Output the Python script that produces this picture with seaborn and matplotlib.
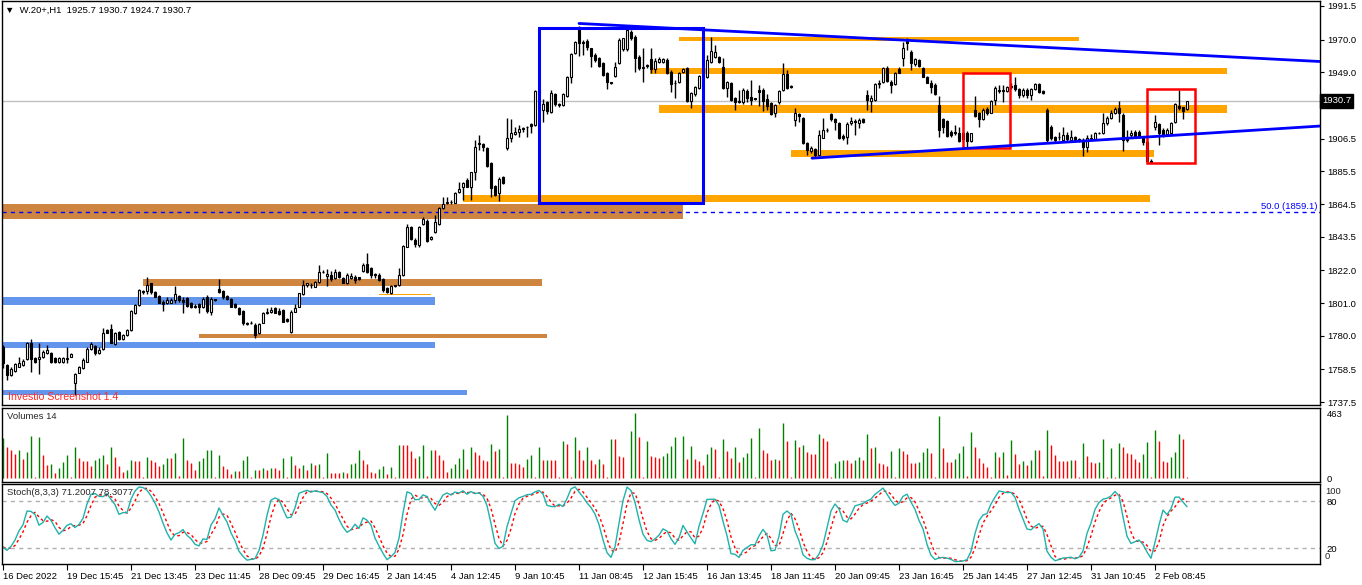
import numpy as np
import pandas as pd
import matplotlib
matplotlib.use("Agg")
import matplotlib.pyplot as plt
import matplotlib.transforms as mtransforms
from matplotlib.patches import Rectangle
import seaborn as sns

# H1 bars, 16 Dec 2022 -> 2 Feb 2023
opens = [
    1773.0, 1761.2, 1754.8, 1757.6, 1760.2, 1761.2, 1764.9, 1775.6, 1765.5, 1764.9,
    1766.6, 1768.7, 1769.2, 1765.5, 1763.4, 1763.0, 1765.3, 1766.6, 1749.9, 1756.3,
    1759.1, 1763.4, 1771.3, 1773.4, 1769.2, 1771.3, 1783.7, 1784.1, 1774.7, 1782.6,
    1777.7, 1780.5, 1783.7, 1794.4, 1799.7, 1808.7, 1808.9, 1813.6, 1808.3, 1805.5,
    1801.9, 1800.8, 1801.2, 1802.9, 1805.5, 1802.9, 1804.0, 1800.8, 1799.1, 1800.4,
    1798.7, 1805.1, 1795.5, 1803.4, 1810.0, 1808.7, 1805.5, 1803.4, 1800.4, 1797.6,
    1795.9, 1787.5, 1788.0, 1787.1, 1781.6, 1788.4, 1794.4, 1795.5, 1797.8, 1795.9,
    1796.5, 1790.5, 1782.6, 1795.5, 1798.7, 1806.8, 1812.5, 1812.5, 1811.5, 1814.3,
    1820.7, 1818.3, 1819.0, 1816.8, 1821.1, 1816.8, 1813.6, 1816.8, 1817.9, 1817.5,
    1821.7, 1826.0, 1823.2, 1819.4, 1819.0, 1816.2, 1810.4, 1807.2, 1811.9, 1812.5,
    1819.0, 1837.1, 1849.5, 1841.4, 1838.2, 1851.7, 1853.6, 1842.1, 1846.8, 1851.5,
    1861.7, 1865.4, 1866.0, 1865.4, 1872.4, 1875.2, 1879.9, 1875.6, 1884.8, 1903.4,
    1903.0, 1900.2, 1891.0, 1876.3, 1871.3, 1882.0, 1900.6, 1907.0, 1909.6, 1910.5,
    1912.6, 1913.7, 1915.6, 1915.2, 1937.0, 1924.8, 1930.1, 1923.7, 1935.1, 1928.6,
    1928.0, 1933.8, 1945.7, 1961.1, 1977.2, 1968.6, 1969.3, 1964.3, 1960.1, 1958.4,
    1954.7, 1948.3, 1942.3, 1946.8, 1954.7, 1963.7, 1963.7, 1975.0, 1971.8, 1959.0,
    1951.9, 1953.7, 1957.5, 1951.1, 1955.4, 1955.8, 1956.9, 1949.4, 1942.3, 1942.5,
    1949.0, 1951.5, 1930.6, 1934.8, 1938.7, 1946.6, 1946.2, 1955.4, 1959.0, 1959.0,
    1952.6, 1939.1, 1941.9, 1932.3, 1930.6, 1929.7, 1937.0, 1933.3, 1932.3, 1937.6,
    1937.6, 1931.8, 1929.1, 1922.7, 1929.7, 1937.6, 1947.7, 1939.8, 1918.4, 1922.0,
    1919.5, 1903.4, 1898.5, 1899.8, 1895.9, 1907.1, 1911.8, 1922.0, 1919.0, 1916.2,
    1908.3, 1907.7, 1916.2, 1917.7, 1916.2, 1919.0, 1934.4, 1930.6, 1931.2, 1941.9,
    1943.0, 1951.5, 1943.0, 1941.5, 1950.9, 1957.9, 1969.7, 1962.2, 1954.1, 1956.9,
    1951.5, 1946.2, 1942.3, 1940.8, 1928.0, 1918.8, 1918.0, 1910.9, 1910.9, 1909.8,
    1909.8, 1910.3, 1905.1, 1924.8, 1923.1, 1918.8, 1925.2, 1923.1, 1931.2, 1937.2,
    1937.6, 1937.0, 1939.3, 1940.8, 1938.0, 1934.4, 1937.6, 1934.4, 1938.0, 1941.5,
    1937.2, 1924.8, 1914.1, 1907.3, 1907.3, 1905.6, 1908.8, 1905.6, 1907.3, 1905.6,
    1905.6, 1901.3, 1906.2, 1906.0, 1910.0, 1909.8, 1916.2, 1919.5, 1922.7, 1925.9,
    1921.6, 1907.3, 1908.8, 1910.9, 1910.9, 1907.3, 1904.5, 1892.3, 1914.1, 1915.8,
    1912.0, 1909.4, 1909.8, 1917.3, 1927.4, 1926.5, 1925.7,
]
highs = [
    1774.1, 1761.9, 1760.2, 1762.7, 1766.2, 1764.9, 1776.2, 1777.9, 1766.6, 1775.1,
    1770.9, 1774.1, 1769.8, 1766.2, 1766.2, 1766.6, 1772.6, 1768.7, 1755.9, 1760.8,
    1765.5, 1772.6, 1776.2, 1774.1, 1773.0, 1784.8, 1784.1, 1787.5, 1782.6, 1783.3,
    1781.1, 1784.1, 1796.5, 1800.4, 1809.8, 1809.3, 1817.5, 1814.1, 1808.9, 1806.1,
    1802.9, 1805.1, 1804.0, 1811.9, 1806.1, 1805.1, 1805.1, 1801.9, 1800.4, 1800.8,
    1804.6, 1806.1, 1805.1, 1803.6, 1816.4, 1809.3, 1806.4, 1804.0, 1800.8, 1798.7,
    1796.5, 1789.0, 1789.2, 1788.0, 1788.4, 1795.5, 1797.6, 1798.7, 1798.7, 1797.6,
    1796.9, 1791.2, 1796.5, 1800.4, 1807.6, 1815.8, 1814.1, 1814.1, 1814.9, 1825.4,
    1822.2, 1822.6, 1821.7, 1822.6, 1821.7, 1817.5, 1820.0, 1820.5, 1819.0, 1817.9,
    1826.4, 1832.9, 1823.9, 1820.0, 1820.0, 1816.8, 1811.0, 1812.5, 1812.5, 1823.2,
    1838.2, 1851.7, 1850.4, 1842.5, 1850.4, 1856.4, 1854.7, 1844.0, 1857.4, 1862.4,
    1869.2, 1869.2, 1867.1, 1872.4, 1878.8, 1878.8, 1881.0, 1885.2, 1905.5, 1908.8,
    1903.8, 1900.9, 1891.7, 1876.7, 1882.0, 1882.5, 1919.5, 1918.8, 1914.1, 1915.2,
    1914.1, 1914.5, 1916.2, 1937.6, 1937.6, 1931.6, 1930.8, 1937.6, 1935.9, 1929.5,
    1935.5, 1946.6, 1961.1, 1969.3, 1978.7, 1969.7, 1970.1, 1964.8, 1961.1, 1959.0,
    1955.8, 1949.0, 1943.0, 1955.8, 1970.8, 1971.2, 1976.8, 1976.1, 1972.9, 1960.1,
    1964.3, 1954.1, 1964.3, 1957.9, 1959.0, 1958.4, 1957.9, 1950.5, 1944.0, 1949.4,
    1952.0, 1952.6, 1936.6, 1940.4, 1947.2, 1953.7, 1960.1, 1971.8, 1966.5, 1959.6,
    1958.4, 1943.4, 1943.0, 1933.3, 1937.6, 1939.1, 1938.3, 1944.0, 1932.7, 1940.8,
    1938.7, 1934.8, 1929.7, 1928.4, 1937.6, 1954.7, 1950.5, 1940.8, 1925.9, 1922.7,
    1920.5, 1904.5, 1901.9, 1900.6, 1912.0, 1919.4, 1913.0, 1922.7, 1919.9, 1917.3,
    1909.2, 1916.9, 1920.5, 1919.0, 1919.4, 1919.4, 1937.6, 1934.4, 1941.9, 1944.0,
    1952.6, 1953.2, 1944.0, 1949.4, 1952.2, 1968.6, 1970.8, 1963.3, 1957.9, 1957.3,
    1952.2, 1946.6, 1944.0, 1941.9, 1933.8, 1919.4, 1918.4, 1912.0, 1915.2, 1914.1,
    1911.5, 1911.5, 1910.3, 1933.8, 1923.7, 1925.9, 1926.5, 1931.2, 1940.2, 1940.8,
    1940.8, 1940.2, 1941.9, 1946.2, 1938.7, 1938.7, 1938.7, 1938.7, 1942.3, 1942.3,
    1937.6, 1925.9, 1915.2, 1908.1, 1910.9, 1913.7, 1910.9, 1912.0, 1908.1, 1906.6,
    1906.6, 1908.8, 1909.4, 1910.9, 1910.9, 1922.7, 1920.9, 1924.8, 1926.9, 1930.8,
    1922.7, 1912.0, 1912.0, 1912.0, 1912.0, 1908.1, 1905.6, 1893.2, 1921.6, 1916.2,
    1913.0, 1913.0, 1917.3, 1929.1, 1937.6, 1926.9, 1930.7,
]
lows = [
    1759.1, 1751.6, 1754.2, 1757.0, 1759.8, 1760.8, 1764.5, 1757.0, 1762.7, 1755.5,
    1765.9, 1768.3, 1762.7, 1762.3, 1762.7, 1762.3, 1762.7, 1766.2, 1742.0, 1755.9,
    1758.5, 1763.0, 1770.9, 1767.6, 1768.3, 1770.9, 1781.6, 1775.1, 1774.1, 1777.3,
    1777.3, 1780.1, 1783.3, 1794.0, 1799.3, 1806.8, 1806.8, 1806.8, 1804.6, 1800.8,
    1796.1, 1800.4, 1800.8, 1800.8, 1801.9, 1794.4, 1798.7, 1797.6, 1797.6, 1794.8,
    1797.6, 1794.4, 1793.3, 1802.5, 1807.2, 1803.4, 1802.9, 1798.2, 1797.6, 1793.3,
    1786.9, 1787.1, 1787.5, 1778.3, 1781.1, 1788.0, 1794.0, 1794.8, 1794.4, 1793.1,
    1788.6, 1788.6, 1781.6, 1795.0, 1798.2, 1806.1, 1811.5, 1810.4, 1811.0, 1813.6,
    1820.5, 1811.9, 1815.3, 1816.2, 1816.8, 1813.6, 1813.2, 1816.2, 1814.0, 1815.8,
    1821.1, 1820.5, 1816.8, 1816.8, 1815.3, 1808.3, 1807.6, 1806.8, 1811.5, 1811.9,
    1818.3, 1836.7, 1841.4, 1837.1, 1837.1, 1851.0, 1840.3, 1841.4, 1846.1, 1851.0,
    1861.1, 1864.5, 1864.5, 1864.9, 1871.8, 1867.1, 1875.2, 1867.1, 1879.9, 1899.1,
    1898.7, 1888.5, 1869.2, 1869.6, 1866.6, 1877.3, 1899.1, 1904.5, 1908.8, 1907.3,
    1910.9, 1907.7, 1909.8, 1914.5, 1935.0, 1917.3, 1922.2, 1922.6, 1927.4, 1926.5,
    1927.4, 1933.3, 1942.3, 1960.5, 1959.4, 1960.1, 1963.3, 1952.6, 1955.8, 1952.2,
    1946.8, 1938.3, 1941.3, 1946.2, 1954.1, 1962.6, 1962.6, 1969.7, 1949.4, 1950.5,
    1942.5, 1951.9, 1948.3, 1948.3, 1954.7, 1955.2, 1947.7, 1936.6, 1932.3, 1941.9,
    1948.3, 1929.7, 1926.3, 1934.0, 1938.3, 1944.0, 1945.1, 1954.7, 1957.9, 1954.7,
    1938.3, 1933.3, 1930.6, 1924.8, 1929.1, 1928.4, 1929.7, 1928.0, 1931.0, 1927.6,
    1924.2, 1924.8, 1921.6, 1920.5, 1928.4, 1937.0, 1938.3, 1938.7, 1914.7, 1917.3,
    1902.8, 1895.9, 1897.0, 1894.8, 1895.5, 1906.6, 1910.9, 1917.7, 1912.0, 1906.2,
    1905.6, 1902.8, 1915.2, 1908.8, 1913.5, 1916.2, 1924.8, 1923.7, 1930.6, 1938.7,
    1941.9, 1943.0, 1935.5, 1940.8, 1948.3, 1953.0, 1963.3, 1950.5, 1953.0, 1952.2,
    1945.7, 1941.9, 1935.5, 1934.4, 1907.7, 1909.8, 1907.7, 1907.7, 1908.8, 1904.5,
    1904.5, 1901.3, 1904.5, 1920.5, 1914.1, 1918.4, 1921.6, 1922.7, 1928.0, 1935.5,
    1930.1, 1936.6, 1938.0, 1937.2, 1932.7, 1933.3, 1932.7, 1931.2, 1937.6, 1935.5,
    1935.1, 1904.5, 1905.6, 1904.5, 1905.6, 1904.9, 1905.1, 1904.5, 1904.5, 1904.5,
    1895.3, 1898.1, 1905.6, 1905.6, 1909.4, 1909.4, 1915.2, 1918.8, 1922.2, 1917.3,
    1898.7, 1904.5, 1906.6, 1906.6, 1906.6, 1902.4, 1891.7, 1891.0, 1912.0, 1902.4,
    1907.7, 1908.1, 1909.4, 1916.7, 1924.8, 1918.8, 1924.7,
]
closes = [
    1762.3, 1754.8, 1758.5, 1761.9, 1762.7, 1763.8, 1775.1, 1764.9, 1763.4, 1766.6,
    1769.4, 1770.9, 1763.4, 1763.0, 1765.5, 1765.5, 1765.7, 1768.1, 1755.3, 1760.2,
    1764.5, 1771.3, 1774.7, 1768.7, 1770.9, 1781.6, 1782.0, 1775.6, 1782.0, 1777.7,
    1780.5, 1783.7, 1795.9, 1799.7, 1809.3, 1808.3, 1812.6, 1808.3, 1805.1, 1801.2,
    1800.4, 1802.9, 1802.9, 1806.6, 1802.9, 1801.9, 1799.3, 1798.7, 1798.2, 1798.2,
    1803.4, 1796.1, 1803.4, 1802.9, 1808.3, 1805.1, 1803.4, 1798.7, 1798.2, 1794.0,
    1788.4, 1788.4, 1788.4, 1780.5, 1787.5, 1794.8, 1795.0, 1796.5, 1794.8, 1793.7,
    1789.0, 1789.2, 1795.5, 1797.8, 1807.2, 1812.5, 1813.6, 1812.5, 1814.3, 1821.1,
    1821.1, 1819.6, 1816.2, 1821.1, 1817.5, 1814.0, 1819.0, 1818.5, 1815.8, 1816.6,
    1825.4, 1821.1, 1819.0, 1818.8, 1815.8, 1809.3, 1808.3, 1811.9, 1812.1, 1819.0,
    1837.6, 1849.5, 1842.1, 1838.8, 1850.0, 1854.7, 1840.8, 1843.5, 1853.2, 1861.7,
    1864.5, 1866.0, 1865.6, 1871.3, 1873.9, 1877.8, 1875.6, 1884.8, 1901.3, 1903.0,
    1900.8, 1889.1, 1874.5, 1870.3, 1880.3, 1877.8, 1906.6, 1910.3, 1910.5, 1912.6,
    1913.0, 1914.1, 1914.5, 1937.0, 1935.9, 1928.6, 1924.4, 1935.5, 1928.4, 1927.8,
    1934.8, 1945.7, 1960.5, 1968.6, 1967.6, 1967.6, 1965.0, 1959.6, 1956.9, 1953.0,
    1947.2, 1942.5, 1942.1, 1952.6, 1969.7, 1970.8, 1976.1, 1970.8, 1958.4, 1951.9,
    1952.6, 1952.8, 1951.1, 1956.2, 1957.5, 1957.5, 1948.3, 1941.3, 1941.9, 1948.3,
    1951.1, 1930.6, 1935.5, 1939.8, 1946.6, 1947.2, 1956.9, 1962.6, 1962.2, 1955.4,
    1938.7, 1943.0, 1931.2, 1929.7, 1930.1, 1937.6, 1932.3, 1931.2, 1932.1, 1936.6,
    1930.6, 1927.6, 1922.0, 1928.0, 1937.0, 1947.7, 1938.7, 1939.6, 1922.7, 1921.2,
    1903.4, 1899.1, 1900.6, 1895.9, 1908.7, 1912.0, 1912.0, 1919.0, 1917.3, 1906.6,
    1907.0, 1915.6, 1917.7, 1917.3, 1918.4, 1916.9, 1931.2, 1932.3, 1941.3, 1941.7,
    1951.5, 1943.4, 1940.8, 1948.3, 1948.7, 1964.4, 1968.0, 1954.7, 1957.3, 1953.0,
    1946.2, 1942.3, 1939.8, 1935.1, 1912.0, 1914.1, 1908.1, 1908.8, 1909.8, 1904.9,
    1906.0, 1905.1, 1909.8, 1921.0, 1918.8, 1924.8, 1922.7, 1930.8, 1938.7, 1937.6,
    1937.2, 1939.3, 1940.2, 1938.0, 1934.4, 1937.6, 1934.4, 1938.0, 1941.5, 1936.6,
    1935.5, 1905.6, 1906.6, 1905.6, 1907.3, 1908.8, 1906.0, 1907.7, 1905.6, 1905.6,
    1901.3, 1906.6, 1906.6, 1909.8, 1910.0, 1916.2, 1919.5, 1923.1, 1925.2, 1923.1,
    1905.6, 1905.6, 1909.8, 1907.7, 1907.7, 1904.5, 1892.3, 1891.7, 1917.3, 1909.8,
    1908.8, 1912.0, 1916.7, 1928.6, 1925.9, 1924.4, 1930.7,
]
volumes = [
    283, 219, 197, 170, 197, 136, 188, 298, 11, 289,
    163, 95, 97, 38, 75, 113, 163, 5, 221, 140,
    124, 124, 86, 129, 140, 163, 102, 221, 147, 86,
    45, 61, 129, 124, 124, 11, 147, 131, 113, 84,
    102, 140, 140, 176, 18, 283, 129, 106, 61, 124,
    140, 197, 199, 5, 163, 86, 68, 29, 52, 52,
    131, 154, 11, 61, 61, 72, 61, 72, 72, 61,
    140, 5, 154, 90, 72, 95, 61, 108, 90, 102,
    5, 181, 38, 38, 34, 45, 34, 102, 108, 197,
    131, 102, 45, 38, 68, 84, 29, 79, 5, 237,
    233, 233, 192, 140, 154, 237, 18, 199, 199, 163,
    129, 45, 72, 102, 140, 210, 68, 221, 188, 163,
    131, 124, 244, 192, 208, 5, 447, 106, 106, 102,
    79, 136, 163, 11, 221, 129, 131, 131, 129, 5,
    264, 244, 5, 289, 203, 131, 219, 131, 102, 136,
    102, 11, 276, 276, 154, 151, 3, 332, 463, 289,
    5, 264, 154, 147, 142, 158, 176, 226, 289, 3,
    298, 136, 226, 136, 124, 90, 170, 219, 208, 11,
    276, 192, 140, 219, 113, 151, 181, 283, 11, 355,
    203, 181, 129, 136, 129, 391, 264, 11, 271, 219,
    237, 188, 174, 174, 316, 283, 264, 11, 106, 120,
    131, 129, 108, 129, 151, 129, 316, 215, 221, 106,
    102, 84, 192, 11, 215, 192, 170, 106, 106, 113,
    185, 215, 181, 11, 445, 215, 113, 113, 136, 181,
    226, 18, 328, 219, 140, 106, 79, 11, 188, 151,
    185, 23, 271, 170, 102, 124, 90, 129, 197, 197,
    18, 344, 237, 165, 120, 120, 120, 129, 129, 11,
    248, 154, 113, 106, 113, 276, 11, 215, 11, 248,
    219, 181, 170, 136, 117, 174, 260, 11, 339, 264,
    124, 113, 147, 188, 312, 278, 11,
]

date_ticks = [0, 16, 32, 48, 64, 80, 96, 112, 128, 144, 160, 176, 192, 208, 224, 240, 256, 272, 288]
date_labels = ["16 Dec 2022", "19 Dec 15:45", "21 Dec 13:45", "23 Dec 11:45", "28 Dec 09:45",
               "29 Dec 16:45", "2 Jan 14:45", "4 Jan 12:45", "9 Jan 10:45", "11 Jan 08:45",
               "12 Jan 15:45", "16 Jan 13:45", "18 Jan 11:45", "20 Jan 09:45", "23 Jan 16:45",
               "25 Jan 14:45", "27 Jan 12:45", "31 Jan 10:45", "2 Feb 08:45"]
price_ticks = [1991.5, 1970.0, 1949.0, 1928.0, 1906.5, 1885.5, 1864.5, 1843.5,
               1822.0, 1801.0, 1780.0, 1758.5, 1737.5]

# objects drawn on the chart: (first bar, last bar, low price, high price)
brown_zones = [(-1, 170, 1854.9, 1864.5), (35, 134.75, 1811.9, 1816.4), (49, 136, 1778.7, 1781.3)]
blue_zones = [(-1, 108, 1799.7, 1805.0), (-1, 108, 1772.3, 1776.0), (-1, 116, 1742.0, 1745.2)]
orange_zones = [(94, 107, 1806.0, 1806.9), (115, 286.75, 1866.0, 1870.3), (169, 269, 1969.2, 1971.8),
                (161.75, 306, 1947.9, 1951.9), (164, 306, 1922.7, 1927.8), (197, 287.75, 1894.4, 1899.1)]
blue_box = (134, 175, 1864.9, 1977.6)
red_boxes = [(240, 251.85, 1900.6, 1948.3), (285.9, 298, 1891.0, 1938.3)]
upper_trend = ([144, 329.25], [1980.3, 1955.9])
lower_trend = ([202.25, 329.25], [1893.9, 1914.5])
fibo_50 = 1859.1
last_price = 1930.7
vol_max = 463

sns.set_theme(style="white")
plt.rcParams["font.family"] = ["Liberation Sans", "DejaVu Sans"]

df = pd.DataFrame({"open": opens, "high": highs, "low": lows, "close": closes, "volume": volumes})
df["bar"] = np.arange(len(df))

# Stochastic 8,3,3 the way MT4 does it
ll = df["low"].rolling(8, min_periods=1).min()
hh = df["high"].rolling(8, min_periods=1).max()
num = (df["close"] - ll).rolling(3, min_periods=1).sum()
den = (hh - ll).rolling(3, min_periods=1).sum()
df["k"] = 100 * num / den
df["d"] = df["k"].rolling(3, min_periods=1).mean()

W, H = 1362, 585
fig = plt.figure(figsize=(W / 100, H / 100), dpi=100)
fig.patch.set_facecolor("white")


def px_axes(x0, y0, x1, y1):
    return fig.add_axes([x0 / W, 1 - y1 / H, (x1 - x0) / W, (y1 - y0) / H])


ax1 = px_axes(2, 1, 1320, 405)
ax2 = px_axes(2, 408, 1320, 482)
ax3 = px_axes(2, 484, 1320, 564)

xlim = (-0.25, 329.25)
fs = 6.8

# ---- main price panel
for x0, x1, lo, hi in brown_zones:
    ax1.add_patch(Rectangle((x0, lo), x1 - x0, hi - lo, color="#CD853F", lw=0, zorder=1))
for x0, x1, lo, hi in blue_zones:
    ax1.add_patch(Rectangle((x0, lo), x1 - x0, hi - lo, color="#6495ED", lw=0, zorder=1))
for x0, x1, lo, hi in orange_zones:
    ax1.add_patch(Rectangle((x0, lo), x1 - x0, hi - lo, color="#FFA500", lw=0, zorder=1))

ax1.axhline(fibo_50, color="#0000FF", lw=1, ls=(0, (3, 3)), zorder=1.5)
ax1.axhline(last_price, color="#C0C0C0", lw=1, zorder=1.5)

ax1.vlines(df["bar"], df["low"], df["high"], color="black", lw=1, zorder=3)
body_lo = np.minimum(df["open"], df["close"])
body_h = np.maximum(np.abs(df["close"] - df["open"]), 0.35)
fill = np.where(df["close"] >= df["open"], "white", "black")
ax1.bar(df["bar"], body_h, bottom=body_lo, width=0.5, color=fill, edgecolor="black",
        linewidth=0.8, zorder=4)

x0, x1, lo, hi = blue_box
ax1.add_patch(Rectangle((x0, lo), x1 - x0, hi - lo, fill=False, ec="#0000FF", lw=2.2, zorder=5))
for x0, x1, lo, hi in red_boxes:
    ax1.add_patch(Rectangle((x0, lo), x1 - x0, hi - lo, fill=False, ec="#FF0000", lw=1.8, zorder=5))
sns.lineplot(x=upper_trend[0], y=upper_trend[1], ax=ax1, color="#0000FF", lw=2, zorder=5)
sns.lineplot(x=lower_trend[0], y=lower_trend[1], ax=ax1, color="#0000FF", lw=2, zorder=5)

ax1.set_xlim(*xlim)
ax1.set_ylim(1735.6, 1994.7)
ax1.set_xticks([])
ax1.yaxis.tick_right()
ax1.set_yticks(price_ticks)
# the 1928.0 label sits under the current-price box in MT4
ax1.set_yticklabels(["" if abs(p - last_price) < 5 else f"{p:.1f}" for p in price_ticks])

tr = mtransforms.blended_transform_factory(ax1.transAxes, ax1.transData)
ax1.text(1.0015, last_price, f"{last_price:.1f}", transform=tr, color="white", fontsize=fs,
         va="center", ha="left", clip_on=False, zorder=10,
         bbox=dict(boxstyle="square,pad=0.25", fc="black", ec="black"))
ax1.text(0.998, fibo_50 + 0.8, "50.0 (1859.1)", transform=tr, color="#0000FF", fontsize=fs,
         ha="right", va="bottom")
ax1.text(0.0025, 0.978, "\u25bc  W.20+,H1  1925.7 1930.7 1924.7 1930.7", transform=ax1.transAxes,
         fontsize=fs, ha="left", va="center", color="black")
ax1.text(0.0045, 0.02, "Investio Screenshot 1.4", transform=ax1.transAxes, fontsize=7.6,
         ha="left", va="center", color="#FF2A2A")

# ---- volumes panel
prev = df["volume"].shift(1).fillna(-1)
vcol = np.where(df["volume"] > prev, "#008000", "#FF0000")
ax2.vlines(df["bar"], 0, df["volume"], colors=vcol, lw=1)
ax2.set_xlim(*xlim)
ax2.set_ylim(-28, 499)
ax2.set_xticks([])
ax2.yaxis.tick_right()
ax2.set_yticks([0, vol_max])
ax2.set_yticklabels(["0", str(vol_max)])
ax2.text(0.004, 0.88, "Volumes 14", transform=ax2.transAxes, fontsize=fs, va="center")

# ---- stochastic panel
ax3.axhline(80, color="#B0B0B0", lw=1, ls=(0, (3, 3)))
ax3.axhline(20, color="#B0B0B0", lw=1, ls=(0, (3, 3)))
sns.lineplot(x=df["bar"], y=df["d"], ax=ax3, color="#FF0000", lw=1, linestyle=(0, (2, 2)))
sns.lineplot(x=df["bar"], y=df["k"], ax=ax3, color="#20B2AA", lw=1)
ax3.set_xlim(*xlim)
ax3.set_ylim(-0.4, 101.8)
ax3.yaxis.tick_right()
ax3.set_yticks([0, 20, 80, 100])
ax3.set_yticklabels(["", "20", "80", ""])
tr3 = mtransforms.blended_transform_factory(ax3.transAxes, ax3.transData)
ax3.annotate("100", xy=(1, 100), xycoords=tr3, xytext=(5, -6), textcoords="offset pixels",
             fontsize=fs, ha="left", va="center", annotation_clip=False)
ax3.annotate("0", xy=(1, 0), xycoords=tr3, xytext=(5, 7), textcoords="offset pixels",
             fontsize=fs, ha="left", va="center", annotation_clip=False)
ax3.text(0.004, 0.89, "Stoch(8,3,3) 71.2007 78.3077", transform=ax3.transAxes, fontsize=fs,
         va="center")
ax3.set_xticks(date_ticks)
ax3.set_xticklabels(date_labels, ha="left")

for ax in (ax1, ax2, ax3):
    ax.set_facecolor("white")
    ax.set_xlabel("")
    ax.set_ylabel("")
    for s in ax.spines.values():
        s.set_color("black")
        s.set_linewidth(1)
    ax.tick_params(axis="y", which="both", right=True, left=False, length=3, width=0.8,
                   direction="out", labelsize=fs, pad=2, colors="black")
for ax in (ax2, ax3):
    ax.tick_params(axis="y", length=0, pad=5)
ax3.tick_params(axis="x", bottom=True, length=4, width=0.8, direction="out", labelsize=fs,
                pad=2, colors="black")

fig.savefig("out.png", dpi=100)
